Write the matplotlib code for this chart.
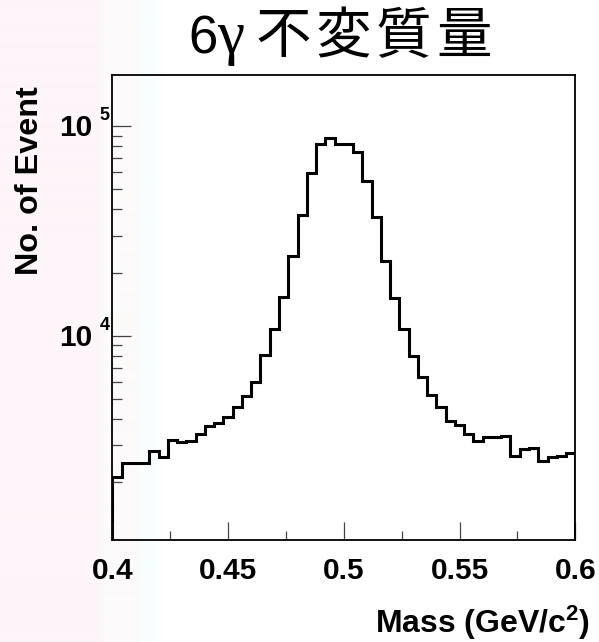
import numpy as np
import matplotlib
matplotlib.use("Agg")
import matplotlib.pyplot as plt
from matplotlib.ticker import FixedLocator, NullFormatter
from matplotlib.transforms import offset_copy

# ---- data -----------------------------------------------------------------
mass_lo, mass_hi = 0.4, 0.6
counts = [2126, 2463, 2463, 2463, 2829, 2630, 3182, 3123, 3140, 3398,
          3709, 3822, 4082, 4556, 5175, 6035, 8091, 10728, 15350, 24070,
          37640, 59900, 81800, 87950, 81800, 81800, 74900, 54660, 36940, 22790,
          15180, 10760, 8028, 6332, 5197, 4556, 3932, 3763, 3398, 3136,
          3299, 3280, 3335, 2669, 2882, 2900, 2534, 2649, 2669, 2749]
edges = np.linspace(mass_lo, mass_hi, len(counts) + 1)

x_major = [0.4, 0.45, 0.5, 0.55, 0.6]
x_tick_labels = ["0.4", "0.45", "0.5", "0.55", "0.6"]
x_minor = [0.425, 0.475, 0.525, 0.575]
y_decades = [4, 5]
y_lo, y_hi = 1.06e3, 1.75e5

title_num = "6"
title_gamma = "γ"
title_jp = "不変質量"
x_title = "Mass (GeV/c$^2$)"
y_title = "No. of Event"

# ---- figure ----------------------------------------------------------------
W, H = 599, 642
plt.rcParams["mathtext.default"] = "regular"
fig = plt.figure(figsize=(W / 100, H / 100), dpi=100)
fig.patch.set_facecolor("white")

# faint slide background band along the left edge
bg = fig.add_axes([0, 0, 1, 1], zorder=-10)
bg.axis("off")
px = np.arange(W)
stops = [0, 98, 104, 136, 142, 156, 162, W]
rgb = np.array([[253, 245, 249], [253, 245, 249], [252, 250, 250], [252, 250, 250],
                [248, 254, 254], [248, 254, 254], [255, 255, 255], [255, 255, 255]]) / 255
grad = np.stack([np.interp(px, stops, rgb[:, c]) for c in range(3)], axis=-1)[None, :, :]
bg.imshow(grad, aspect="auto", extent=[0, 1, 0, 1], interpolation="bilinear")
bg.set_xlim(0, 1)
bg.set_ylim(0, 1)

ax = fig.add_axes([112.3 / W, 1 - 540 / H, 463 / W, 465 / H])
ax.patch.set_alpha(0)

ax.stairs(counts, edges, baseline=y_lo, color="black", lw=2.2)

ax.set_yscale("log")
ax.set_xlim(mass_lo, mass_hi)
ax.set_ylim(y_lo, y_hi)

for s in ax.spines.values():
    s.set_linewidth(1.3)
    s.set_color("black")

# x axis ticks
ax.xaxis.set_major_locator(FixedLocator(x_major))
ax.xaxis.set_minor_locator(FixedLocator(x_minor))
ax.set_xticklabels(x_tick_labels)
ax.tick_params(axis="x", which="major", direction="in", length=13, width=0.9,
               color="#444444", pad=12, top=False, labelsize=21.5)
ax.tick_params(axis="x", which="minor", direction="in", length=6.5, width=0.9,
               color="#444444", top=False)
for t in ax.get_xticklabels():
    t.set_fontfamily("Liberation Sans")
    t.set_fontweight("bold")

# y axis ticks (labels drawn as 10 + raised exponent)
ax.yaxis.set_major_locator(FixedLocator([10.0 ** d for d in y_decades]))
minor_vals = [m * 10.0 ** d for d in range(3, 6) for m in range(2, 10)]
ax.yaxis.set_minor_locator(FixedLocator(minor_vals))
ax.yaxis.set_major_formatter(NullFormatter())
ax.yaxis.set_minor_formatter(NullFormatter())
ax.tick_params(axis="y", which="major", direction="in", length=14, width=0.9,
               color="#444444", right=False)
ax.tick_params(axis="y", which="minor", direction="in", length=7, width=0.9,
               color="#444444", right=False)

ytrans = ax.get_yaxis_transform()
base_tr = offset_copy(ytrans, fig=fig, x=0, y=-2, units="dots")
exp_tr = offset_copy(ytrans, fig=fig, x=0, y=10, units="dots")
for d in y_decades:
    ax.text(-0.044, 10.0 ** d, "10", transform=base_tr, ha="right", va="center",
            fontsize=21.5, fontweight="bold", family="Liberation Sans")
    ax.text(-0.028, 10.0 ** d, str(d), transform=exp_tr, ha="left", va="center",
            fontsize=13, fontweight="bold", family="Liberation Sans")

# axis titles
fig.text(590 / W, 1 - 633 / H, x_title, ha="right", va="baseline",
         fontsize=23, fontweight="bold", family="Liberation Sans")
fig.text(30 / W, 1 - 180.5 / H, y_title, ha="center", va="center", rotation=90,
         fontsize=23.3, fontweight="bold", family="Liberation Sans")

# title: digit, greek letter and the kanji laid out along one baseline
base_y = 1 - 53 / H
fig.text(188 / W, base_y, title_num, ha="left", va="baseline",
         fontsize=38, family="Liberation Sans")
fig.text(217 / W, base_y, title_gamma, ha="left", va="baseline",
         fontsize=44, family="Liberation Serif")
for i, ch in enumerate(title_jp):
    fig.text((256 + 60 * i) / W, base_y, ch, ha="left", va="baseline",
             fontsize=40, family="Noto Sans CJK JP")

fig.savefig("out.png", dpi=100)
